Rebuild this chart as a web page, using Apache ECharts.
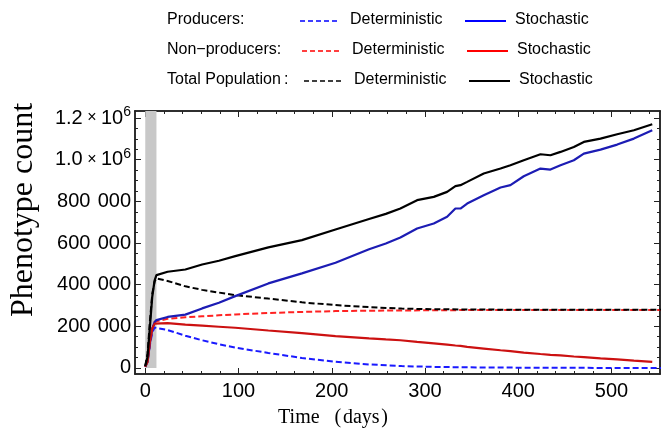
<!DOCTYPE html>
<html>
<head>
<meta charset="utf-8">
<script src="https://cdn.jsdelivr.net/npm/echarts@6/dist/echarts.min.js"></script>
<style>
  html, body { margin: 0; padding: 0; background: #fff; }
  #chart { width: 664px; height: 428px; }
</style>
</head>
<body>
<div id="chart"></div>
<script>
// deterministic model, sampled days
const detDays = [0, 2.5, 5, 7.5, 10, 12, 24, 43, 61, 79, 96.5, 132, 168, 204, 240, 275, 310, 345, 380, 420, 460, 500, 560]
const detProducers = [7000, 38000, 110000, 170000, 194000, 198000, 182000, 155000, 133000, 114000, 98000, 72000, 48000, 30000, 17000, 9000, 5000, 3000, 2000, 1000, 500, 300, 200]
const detNonProducers = [7000, 38000, 118000, 188000, 222000, 230000, 236000, 243000, 248000, 253000, 257000, 264000, 269000, 273000, 275000, 276000, 277000, 278000, 278000, 278000, 278000, 278000, 278000]
const detTotal = [10000, 70000, 225000, 355000, 415000, 430000, 418000, 392000, 375000, 362000, 350000, 333000, 315000, 302000, 292000, 285000, 282000, 281000, 280000, 280000, 280000, 280000, 280000]

// stochastic run, sampled days
const stoDays = [0, 2.5, 5, 7.5, 10, 12, 24, 43, 61, 79, 96.5, 132, 168, 204, 240, 258, 273.6, 291.5, 309.4, 323.7, 332.6, 338, 345.2, 363, 381, 391.6, 405.9, 423.8, 434.5, 445.3, 459.6, 470.3, 488.2, 506.1, 524, 543.7]
const stoProducers = [5000, 30000, 118000, 188000, 220000, 230000, 245000, 256000, 286000, 313000, 345000, 406000, 454000, 505000, 570000, 598000, 626700, 669900, 693800, 725800, 765700, 765700, 789600, 829700, 866500, 877700, 920800, 957600, 952800, 973600, 997600, 1029500, 1048700, 1072700, 1101500, 1141500]
const stoNonProducers = [5000, 30000, 125000, 188000, 213000, 218000, 215000, 208000, 203000, 198000, 193000, 180000, 167000, 153000, 142000, 137000, 133000, 125000, 118000, 112000, 108000, 106000, 101000, 93000, 85000, 81000, 74000, 67000, 63000, 60000, 55000, 52000, 46000, 41000, 35000, 29000]
const stoTotal = [8000, 54000, 198000, 342000, 419000, 446000, 462000, 473000, 497000, 515000, 537000, 579000, 614000, 665000, 715000, 740000, 765700, 805700, 821700, 845700, 872900, 877700, 893700, 933600, 957600, 973600, 997600, 1026300, 1021500, 1037500, 1061500, 1085500, 1101500, 1122300, 1141500, 1170200]

// shaded early phase (days)
const shadeDays = [0, 12]

const xTicks = [0, 100, 200, 300, 400, 500]
const xMinorTicks = [0, 20, 40, 60, 80, 100, 120, 140, 160, 180, 200, 220, 240, 260, 280, 300, 320, 340, 360, 380, 400, 420, 440, 460, 480, 500, 520, 540]
const yTicks = [0, 200000, 400000, 600000, 800000, 1000000, 1200000]
const yMinorTicks = [0, 50000, 100000, 150000, 200000, 250000, 300000, 350000, 400000, 450000, 500000, 550000, 600000, 650000, 700000, 750000, 800000, 850000, 900000, 950000, 1000000, 1050000, 1100000, 1150000, 1200000]

const X_MIN = -11
const X_MAX = 552
const Y_MIN = -29000
const Y_MAX = 1234000

const SANS = '"Liberation Sans", Arial, Helvetica, sans-serif'
const SERIF = '"Liberation Serif", "Times New Roman", serif'

function pairs (xs, ys) {
  return xs.map((x, i) => [x, ys[i]])
}

function yLabel (v) {
  if (v >= 1000000) return '{a|' + (v / 1000000).toFixed(1) + '}{x| × }{a|10}{s|6}'
  if (v === 0) return '{a|0}'
  const s = String(v)
  return '{a|' + s.slice(0, s.length - 3) + ' \u200A' + s.slice(-3) + '}'
}

function xAx (position, ticks, len, labels) {
  return {
    type: 'value', position: position, min: X_MIN, max: X_MAX,
    axisLine: { show: true, onZero: false, lineStyle: { color: '#222', width: 1.5 } },
    axisTick: { show: true, inside: true, length: len, customValues: ticks, lineStyle: { color: '#222', width: 1 } },
    axisLabel: labels
      ? { show: true, customValues: ticks, margin: 7, fontFamily: SANS, fontSize: 20, color: '#000' }
      : { show: false },
    splitLine: { show: false }
  }
}

function yAx (position, ticks, len, labels) {
  return {
    type: 'value', position: position, min: Y_MIN, max: Y_MAX,
    axisLine: { show: true, onZero: false, lineStyle: { color: '#222', width: 1.5 } },
    axisTick: { show: true, inside: true, length: len, customValues: ticks, lineStyle: { color: '#222', width: 1 } },
    axisLabel: labels
      ? {
          show: true, customValues: ticks, margin: 4, color: '#000',
          formatter: yLabel,
          rich: {
            a: { fontFamily: SANS, fontSize: 20, color: '#000' },
            x: { fontFamily: SANS, fontSize: 16, color: '#000' },
            s: { fontFamily: SANS, fontSize: 14, color: '#000', padding: [0, 0, 12, 0] }
          }
        }
      : { show: false },
    splitLine: { show: false }
  }
}

function line (name, xs, ys, color, dashed, width) {
  return {
    name: name, type: 'line', xAxisIndex: 0, yAxisIndex: 0,
    data: pairs(xs, ys), showSymbol: false, symbol: 'none', smooth: false,
    animation: false, z: dashed ? 3 : 4,
    lineStyle: { color: color, width: width, type: dashed ? [6, 3] : 'solid' }
  }
}

const xAxes = [
  xAx('bottom', xMinorTicks, 3, false),
  xAx('bottom', xTicks, 6, true),
  xAx('top', xMinorTicks, 3, false),
  xAx('top', xTicks, 6, false)
]

const yAxes = [
  yAx('left', yMinorTicks, 3, false),
  yAx('left', yTicks, 6, true),
  yAx('right', yMinorTicks, 3, false),
  yAx('right', yTicks, 6, false)
]

const shade = line('shade', [shadeDays[0]], [0], 'transparent', false, 0)
shade.z = 1
shade.markArea = {
  silent: true,
  itemStyle: { color: '#c8c8c8' },
  data: [[{ xAxis: shadeDays[0], yAxis: 0 }, { xAxis: shadeDays[1], yAxis: Y_MAX }]]
}

// legend drawn as graphic rows: label, dashed sample, text, solid sample, text
const legendRows = [
  { label: 'Producers:', dash: '#0000ff', solid: '#0000ff', y: 21, dx: 0 },
  { label: 'Non\u2212producers:', dash: '#ff0000', solid: '#ff0000', y: 51, dx: 2 },
  { label: 'Total Population\u2009:', dash: '#000000', solid: '#000000', y: 81, dx: 4 }
]
const graphics = []
legendRows.forEach((r) => {
  graphics.push({ type: 'text', left: 167, top: r.y - 9, style: { text: r.label, font: '16px ' + SANS, fill: '#000' } })
  graphics.push({ type: 'line', shape: { x1: 300 + r.dx, y1: r.y, x2: 339 + r.dx, y2: r.y }, style: { stroke: r.dash, lineWidth: 1.5, lineDash: [5, 3] } })
  graphics.push({ type: 'text', left: 350 + r.dx, top: r.y - 9, style: { text: 'Deterministic', font: '16px ' + SANS, fill: '#000' } })
  graphics.push({ type: 'line', shape: { x1: 465 + r.dx, y1: r.y, x2: 506 + r.dx, y2: r.y }, style: { stroke: r.solid, lineWidth: 2 } })
  graphics.push({ type: 'text', left: 515 + r.dx, top: r.y - 9, style: { text: 'Stochastic', font: '16px ' + SANS, fill: '#000' } })
})

// axis titles
graphics.push({
  type: 'text', x: 24, y: 210, rotation: Math.PI / 2,
  style: { text: 'Phenotype count', font: '32px ' + SERIF, fill: '#000', textAlign: 'center', textVerticalAlign: 'middle' }
})
graphics.push({
  type: 'text', x: 333, y: 418,
  style: { text: 'Time\u2002 (\u200Adays\u200A)', font: '20px ' + SERIF, fill: '#000', textAlign: 'center', textVerticalAlign: 'middle' }
})

const chart = echarts.init(document.getElementById('chart'), null, { renderer: 'canvas' })
chart.setOption({
  animation: false,
  backgroundColor: '#fff',
  grid: { left: 135, top: 111, right: 4, bottom: 54, containLabel: false },
  xAxis: xAxes,
  yAxis: yAxes,
  graphic: graphics,
  series: [
    shade,
    line('Producers deterministic', detDays, detProducers, '#1a1aff', true, 2),
    line('Non-producers deterministic', detDays, detNonProducers, '#ff2222', true, 2),
    line('Total deterministic', detDays, detTotal, '#000000', true, 2),
    line('Producers stochastic', stoDays, stoProducers, '#1c1cb4', false, 2.2),
    line('Non-producers stochastic', stoDays, stoNonProducers, '#cc1111', false, 2.2),
    line('Total stochastic', stoDays, stoTotal, '#000000', false, 2.2)
  ]
})
</script>
</body>
</html>
